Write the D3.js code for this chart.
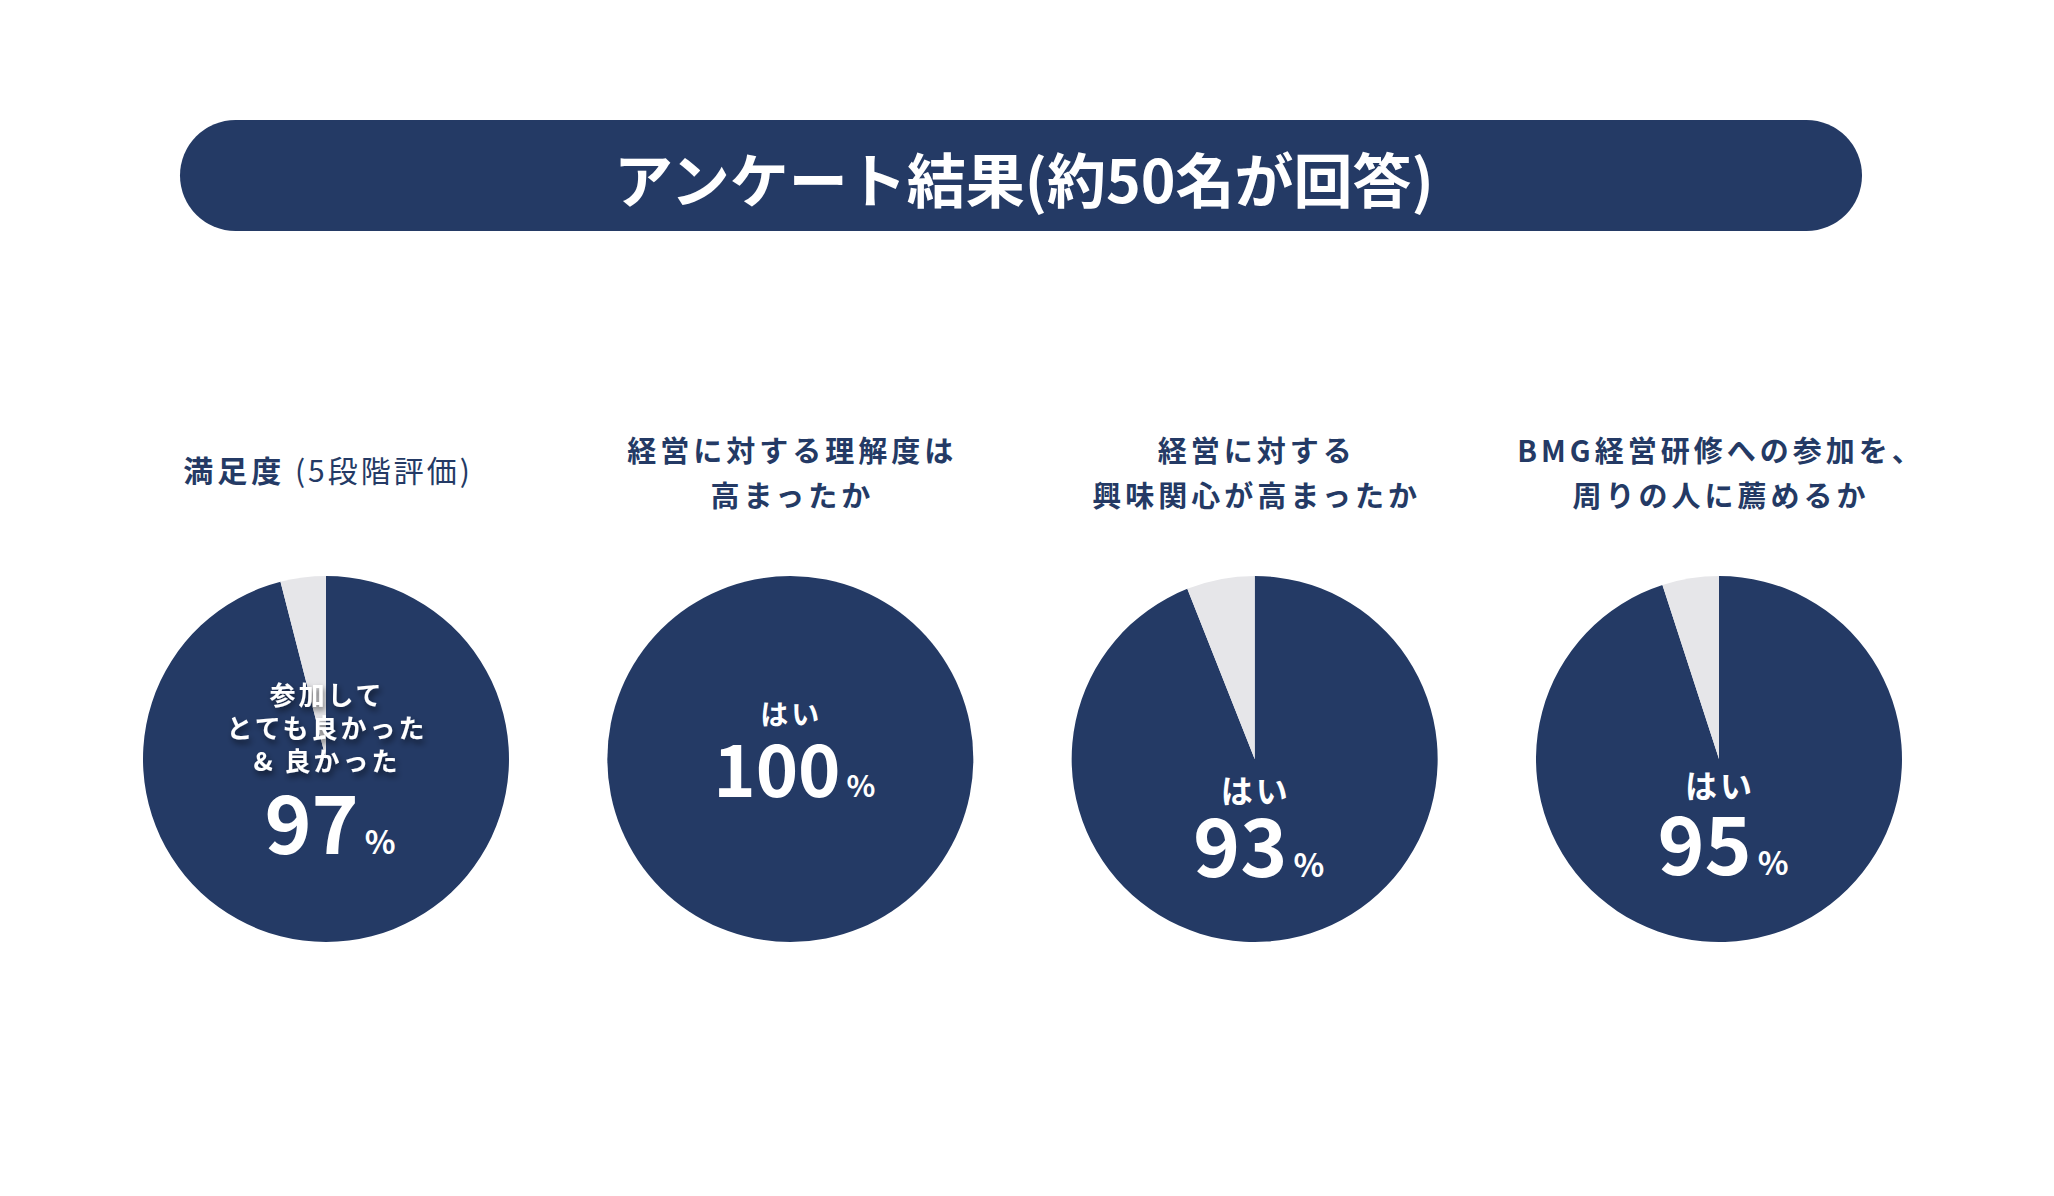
<!DOCTYPE html>
<html>
<head>
<meta charset="utf-8">
<script src="https://cdn.jsdelivr.net/npm/d3@7"></script>
<style>
  html, body { margin: 0; padding: 0; background: #fff; }
  svg { display: block; font-family: "Noto Sans CJK JP", "Noto Sans", sans-serif; }
</style>
</head>
<body>
<svg id="chart" width="2054" height="1196"></svg>
<script>
(function(){
    // --- data ---
    var heading = 'アンケート結果(約50名が回答)';
    var questions = [
        [['満足度', ' (5段階評価)']],
        ['経営に対する理解度は', '高まったか'],
        ['経営に対する', '興味関心が高まったか'],
        ['BMG経営研修への参加を、', '周りの人に薦めるか']
    ];
    var answerLabels = [
        ['参加して', 'とても良かった', '& 良かった'],
        ['はい'],
        ['はい'],
        ['はい']
    ];
    var percentLabels = [97, 100, 93, 95];
    // slice shares as drawn in the pies (yes / other)
    var yesShare = [96, 100, 94, 95];
    var otherShare = [4, 0, 6, 5];

    var navy = '#243a65',
        light = '#e6e6e9';

    var svg = d3.select('#chart');

    var defs = svg.append('defs');
    var f = defs.append('filter').attr('id', 'shadow')
        .attr('x', '-20%').attr('y', '-40%').attr('width', '140%').attr('height', '180%');
    f.append('feDropShadow')
        .attr('dx', 2).attr('dy', 4).attr('stdDeviation', 3)
        .attr('flood-color', '#000').attr('flood-opacity', 0.55);

    // --- heading banner ---
    var bx0 = 180, bx1 = 1862, by0 = 120, by1 = 231;
    svg.append('rect')
        .attr('x', bx0).attr('y', by0)
        .attr('width', bx1 - bx0).attr('height', by1 - by0)
        .attr('rx', (by1 - by0) / 2)
        .attr('fill', navy);
    svg.append('text')
        .attr('x', (bx0 + bx1) / 2 + 3)
        .attr('y', (by0 + by1) / 2 + 2)
        .attr('text-anchor', 'middle')
        .attr('dominant-baseline', 'central')
        .attr('fill', '#fff')
        .attr('font-size', 59)
        .attr('font-weight', 700)
        .text(heading);

    // --- pies ---
    var x = d3.scaleLinear().domain([0, questions.length - 1]).range([326, 1719]);
    var cy = 759, r = 183;

    var pie = d3.pie().sort(null).value(function(d){ return d; });
    var arc = d3.arc().innerRadius(0).outerRadius(r);
    var colors = [navy, light];

    // inner label layout for each pie (offsets from centre, sizes)
    var labelTop = [-66, -46, 30, 25];
    var labelSize = [26, 28, 32, 32];
    var numberDy = [95, 38, 118, 116];
    var numberSize = [80, 72, 80, 80];
    var pctSize = [32, 30, 32, 32];

    questions.forEach(function(q, i){
        var g = svg.append('g').attr('transform', 'translate(' + x(i) + ',' + cy + ')');

        g.selectAll('path')
            .data(pie([yesShare[i], otherShare[i]]).filter(function(d){ return d.value > 0; }))
            .enter().append('path')
            .attr('d', arc)
            .attr('fill', function(d){ return colors[d.index]; });

        // question title
        var tg = svg.append('g').attr('transform', 'translate(' + x(i) + ',0)');
        var t = tg.append('text')
            .attr('text-anchor', 'middle')
            .attr('fill', navy)
            .attr('font-size', 29)
            .attr('letter-spacing', 4);
        if (q.length === 1 && Array.isArray(q[0])) {
            t.attr('y', 469).attr('dominant-baseline', 'central').attr('dx', 2);
            t.append('tspan').attr('font-weight', 700).attr('font-size', 30).text(q[0][0]);
            t.append('tspan').attr('font-weight', 400).attr('font-size', 30).attr('letter-spacing', 3).text(q[0][1]);
        } else {
            t.attr('font-weight', 700);
            q.forEach(function(line, j){
                t.append('tspan')
                    .attr('x', 2)
                    .attr('y', 449 + j * 45)
                    .attr('dominant-baseline', 'central')
                    .text(line);
            });
        }

        // inner label
        var lab = answerLabels[i];
        var lg = g.append('g');
        if (lab.length > 1) lg.attr('filter', 'url(#shadow)');
        lab.forEach(function(line, j){
            lg.append('text')
                .attr('x', 1)
                .attr('y', labelTop[i] + j * 33)
                .attr('text-anchor', 'middle')
                .attr('dominant-baseline', 'central')
                .attr('fill', '#fff')
                .attr('font-size', labelSize[i])
                .attr('font-weight', 700)
                .attr('letter-spacing', 3)
                .text(line);
        });
        var nt = g.append('text')
            .attr('x', 4)
            .attr('y', numberDy[i])
            .attr('text-anchor', 'middle')
            .attr('fill', '#fff')
            .attr('font-weight', 700);
        nt.append('tspan').attr('font-size', numberSize[i]).text(percentLabels[i]);
        nt.append('tspan').attr('font-size', pctSize[i]).attr('dx', 6).text('%');
    });
})();
</script>
</body>
</html>
